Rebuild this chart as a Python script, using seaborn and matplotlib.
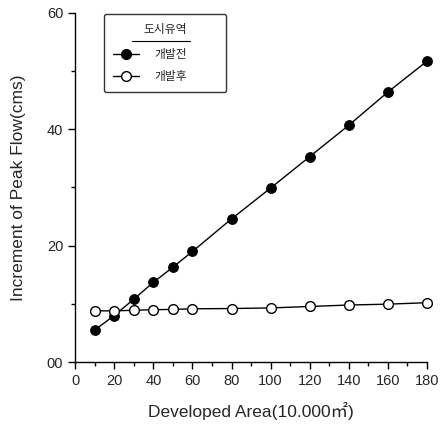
import matplotlib
matplotlib.use("Agg")
import matplotlib.pyplot as plt
import seaborn as sns
import pandas as pd
from matplotlib.ticker import MultipleLocator
from matplotlib.lines import Line2D

area = [10, 20, 30, 40, 50, 60, 80, 100, 120, 140, 160, 180]
before = [5.5, 8.0, 10.8, 13.7, 16.3, 19.0, 24.6, 29.9, 35.3, 40.7, 46.4, 51.7]
after = [8.8, 8.8, 8.9, 9.0, 9.05, 9.15, 9.2, 9.3, 9.55, 9.8, 9.95, 10.2]
series_names = ["개발전", "개발후"]
legend_title = "도시유역"
xticks = [0, 20, 40, 60, 80, 100, 120, 140, 160, 180]
yticks = [0, 20, 40, 60]
yticklabels = ["00", "20", "40", "60"]

sns.set_style("ticks")
plt.rcParams["font.family"] = ["Liberation Sans", "Noto Sans CJK KR", "DejaVu Sans"]

df = pd.DataFrame({
    "area": area * 2,
    "flow": before + after,
    "series": [series_names[0]] * len(area) + [series_names[1]] * len(area),
})

fig = plt.figure(figsize=(4.42, 4.30), dpi=100)
ax = fig.add_axes([0.170, 0.158, 0.796, 0.812])

sns.lineplot(data=df[df.series == series_names[0]], x="area", y="flow", ax=ax,
             color="black", lw=1.0, marker="o", markersize=7,
             markerfacecolor="black", markeredgecolor="black", clip_on=False)
sns.lineplot(data=df[df.series == series_names[1]], x="area", y="flow", ax=ax,
             color="black", lw=1.0, marker="o", markersize=7,
             markerfacecolor="white", markeredgecolor="black", markeredgewidth=1.0,
             clip_on=False, zorder=3)

ax.set_xlim(0, 180)
ax.set_ylim(0, 60)
ax.set_xticks(xticks)
ax.set_yticks(yticks)
ax.set_yticklabels(yticklabels)
ax.xaxis.set_minor_locator(MultipleLocator(10))
ax.yaxis.set_minor_locator(MultipleLocator(10))
ax.tick_params(which="major", length=5, width=1.0, labelsize=10.5, color="black")
ax.tick_params(which="minor", length=3, width=1.0, color="black")
sns.despine(ax=ax)
for s in ["left", "bottom"]:
    ax.spines[s].set_linewidth(1.0)
    ax.spines[s].set_color("black")

ax.set_xlabel("Developed Area(10.000㎡)", fontsize=12.5, labelpad=10)
ax.set_ylabel("Increment of Peak Flow(cms)", fontsize=12.5, labelpad=15)

handles = [
    Line2D([], [], color="black", lw=1.0, marker="o", markersize=7,
           markerfacecolor="black", markeredgecolor="black"),
    Line2D([], [], color="black", lw=1.0, marker="o", markersize=7,
           markerfacecolor="white", markeredgecolor="black"),
]
leg = ax.legend(handles, series_names, title=legend_title,
                loc="upper left", bbox_to_anchor=(0.0824, 0.2, 0.347, 0.797),
                mode="expand", borderaxespad=0,
                frameon=True, fancybox=True, edgecolor="black",
                handlelength=2.2, borderpad=0.75, labelspacing=0.75,
                handletextpad=1.3,
                prop={"family": ["Noto Sans CJK KR"], "size": 8.5})
leg.get_frame().set_linewidth(1.0)
leg.get_title().set_family(["Noto Sans CJK KR"])
leg.get_title().set_fontsize(8.5)
leg._legend_box.sep = 9
fig.canvas.draw()
tb = leg.get_title().get_window_extent()
inv = fig.transFigure.inverted()
(x0, y0), (x1, y1) = inv.transform([[tb.x0 - 11, tb.y0 - 5], [tb.x1 + 3, tb.y0 - 5]])
fig.add_artist(Line2D([x0, x1], [y0, y0], color="black", lw=0.8))

fig.savefig("out.png", dpi=100)
